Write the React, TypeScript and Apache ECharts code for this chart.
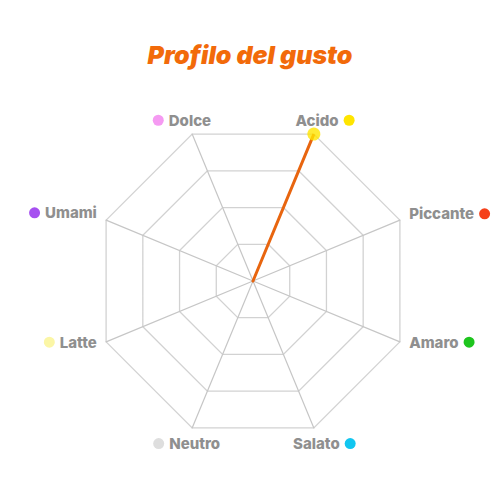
import React, { useEffect, useRef } from 'react';
import * as echarts from 'echarts';

const FLAVOURS = ['Acido', 'Dolce', 'Umami', 'Latte', 'Neutro', 'Salato', 'Amaro', 'Piccante'];
const FLAVOUR_COLORS = ['#ffe500', '#f59af2', '#a650f0', '#fbf6a6', '#dedede', '#12c6f0', '#1ec51e', '#f5401a'];
const RIGHT_SIDE = ['Acido', 'Piccante', 'Amaro', 'Salato'];
const PROFILE = [4, 0, 0, 0, 0, 0, 0, 0];
const MAX_VALUE = 4;

const TEXT_COLOR = '#8f8f8f';
const ORANGE = '#f26a0a';

const CENTER = ['50.6%', '56.2%'];
const RADIUS = 159;

// per-label placement tweaks: [nameGap, align, padding]
const NAME_LAYOUT: any = {
  Acido: { gap: 15, align: 'center', verticalAlign: 'middle', padding: [0, 0, 0, 11] },
  Dolce: { gap: 15, align: 'center', verticalAlign: 'middle', padding: [0, 9, 0, 0] },
  Neutro: { gap: 17, align: 'center', verticalAlign: 'middle', padding: [0, 0, 0, 2] },
  Salato: { gap: 17, align: 'center', verticalAlign: 'middle', padding: [0, 0, 0, 8] },
  Umami: { gap: 10, padding: [0, 0, 7, 0] },
  Latte: { gap: 10, padding: [0, 0, 7, 0] },
  Piccante: { gap: 10, padding: [0, 0, 5, 0] },
  Amaro: { gap: 10, padding: [0, 0, 7, 0] },
};

const buildRich = () => {
  const rich: any = {
    txt: { color: TEXT_COLOR, fontSize: 15, fontWeight: 800, fontFamily: 'Inter' },
    gap: { width: 5, fontSize: 14 },
  };
  FLAVOURS.forEach((name, i) => {
    rich['d' + i] = {
      width: 11,
      height: 11,
      borderRadius: 5.5,
      backgroundColor: FLAVOUR_COLORS[i],
    };
  });
  return rich;
};

const App = (): JSX.Element => {
  const divEL = useRef(null);

  useEffect(() => {
    const instance = echarts.init(divEL.current as any, null, { renderer: 'svg' });

    const option: any = {
      animation: false,
      title: {
        text: 'Profilo del gusto',
        left: 'center',
        top: 37,
        textStyle: {
          color: ORANGE,
          fontSize: 25,
          fontWeight: 900,
          fontStyle: 'italic',
          fontFamily: 'Inter',
        },
      },
      radar: {
        center: CENTER,
        radius: RADIUS,
        startAngle: 67.5,
        splitNumber: 4,
        shape: 'polygon',
        nameGap: 10,
        indicator: FLAVOURS.map((name) => {
          const l = NAME_LAYOUT[name];
          const style: any = { padding: l.padding };
          if (l.align) {
            style.align = l.align;
            style.verticalAlign = l.verticalAlign;
          }
          return { name, max: MAX_VALUE, nameGap: l.gap, nameTextStyle: style };
        }),
        axisName: {
          formatter: (name: string) => {
            const i = FLAVOURS.indexOf(name);
            if (RIGHT_SIDE.includes(name)) {
              return `{txt|${name}}{gap| }{d${i}|}`;
            }
            return `{d${i}|}{gap| }{txt|${name}}`;
          },
          rich: buildRich(),
        },
        splitLine: { lineStyle: { color: '#d2d2d2', width: 1.3 } },
        splitArea: { show: false },
        axisLine: { lineStyle: { color: '#c6c6c6', width: 1.2 } },
      },
      polar: { center: CENTER, radius: RADIUS },
      angleAxis: {
        type: 'category',
        data: FLAVOURS,
        startAngle: 67.5,
        clockwise: false,
        boundaryGap: false,
        show: false,
      },
      radiusAxis: { min: 0, max: MAX_VALUE, show: false },
      series: [
        {
          type: 'radar',
          symbol: 'none',
          lineStyle: { color: '#e8650f', width: 3 },
          data: [{ value: PROFILE, name: 'Profilo' }],
        },
        {
          type: 'scatter',
          coordinateSystem: 'polar',
          symbolSize: 13,
          itemStyle: { color: FLAVOUR_COLORS[0] },
          data: FLAVOURS.map((name, i) => [PROFILE[i], name]).filter((d) => (d[0] as number) > 0),
        },
      ],
    };

    instance.setOption(option);

    return () => {
      instance.dispose();
    };
  }, []);

  return (
    <div
      ref={divEL}
      style={{ position: 'fixed', top: 0, left: 0, width: 500, height: 500, background: '#ffffff' }}
    ></div>
  );
};

export default App;
